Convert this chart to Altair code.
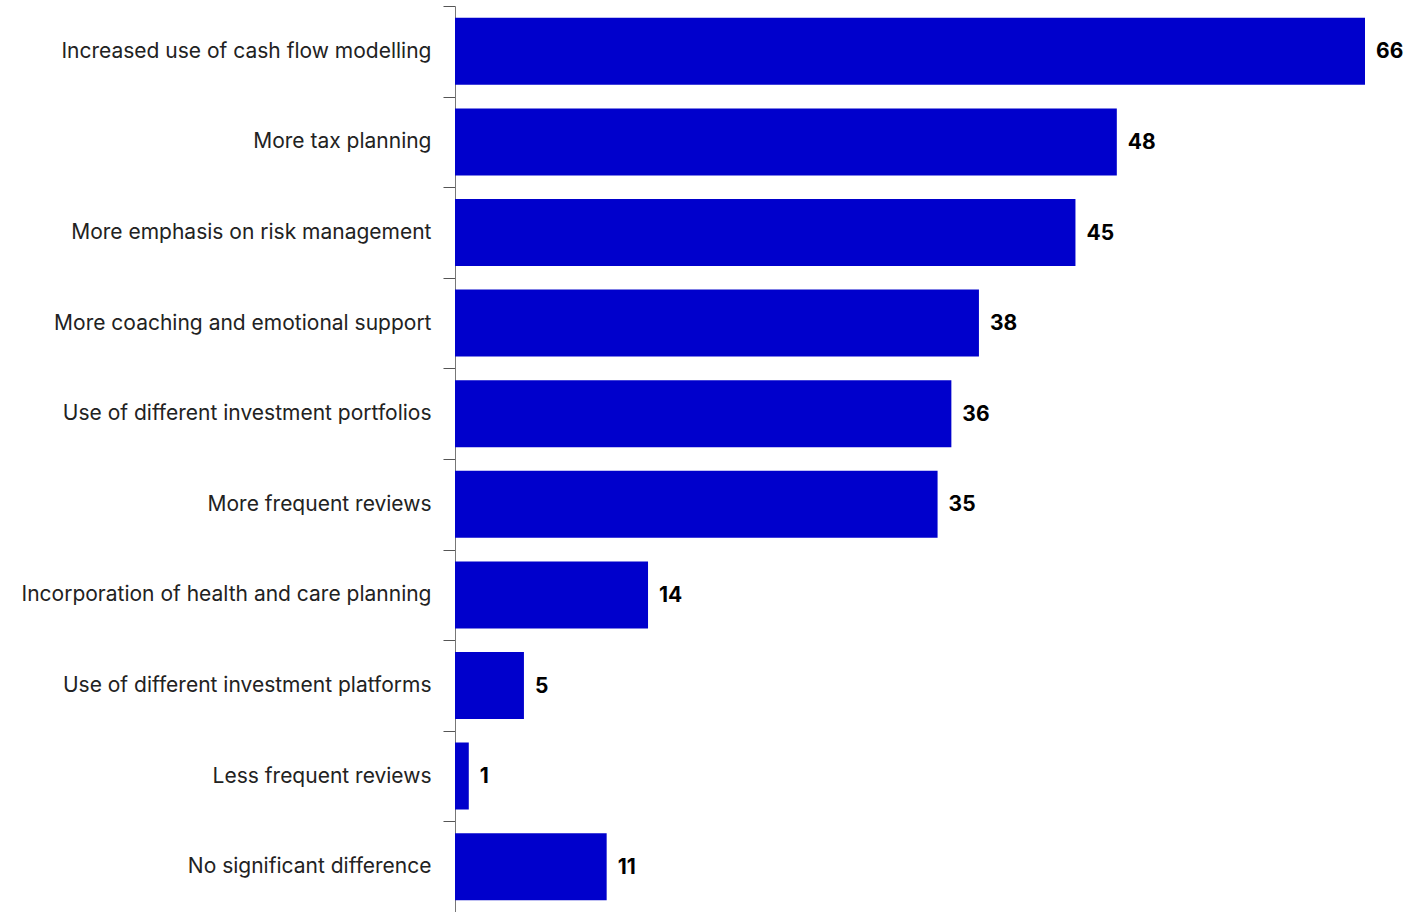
import altair as alt
import pandas as pd

categories = [
    "Increased use of cash flow modelling",
    "More tax planning",
    "More emphasis on risk management",
    "More coaching and emotional support",
    "Use of different investment portfolios",
    "More frequent reviews",
    "Incorporation of health and care planning",
    "Use of different investment platforms",
    "Less frequent reviews",
    "No significant difference",
]
values = [66, 48, 45, 38, 36, 35, 14, 5, 1, 11]

df = pd.DataFrame({"category": categories, "value": values})

FONT = "Inter"
STEP_HALF = 45.3

y = alt.Y(
    "category:N",
    sort=categories,
    title=None,
    scale=alt.Scale(paddingInner=0.26, paddingOuter=0.13),
    axis=alt.Axis(
        labelFont=FONT,
        labelFontSize=21,
        labelColor="#222222",
        labelPadding=12,
        tickSize=12,
        tickColor="#555555",
        tickOffset=-STEP_HALF,
        labelOffset=STEP_HALF,
        domainColor="#777777",
        labelLimit=500,
    ),
)
x = alt.X(
    "value:Q",
    title=None,
    scale=alt.Scale(domain=[0, 66], nice=False),
    axis=None,
)

bars = alt.Chart(df).mark_bar(color="#0000CC").encode(y=y, x=x)
text = alt.Chart(df).mark_text(
    align="left", baseline="middle", dx=11, dy=1, font=FONT, fontSize=21, fontWeight="bold", color="#000000"
).encode(y=alt.Y("category:N", sort=categories), x=alt.X("value:Q"), text="value:Q")

chart = (
    alt.layer(bars, text)
    .properties(
        width=910,
        height=906,
        autosize=alt.AutoSizeParams(type="none"),
        padding={"left": 455, "top": 6, "right": 54, "bottom": 0},
    )
    .configure_view(stroke=None)
)

chart.save("out.html", embed_options={"renderer": "svg", "actions": False})
